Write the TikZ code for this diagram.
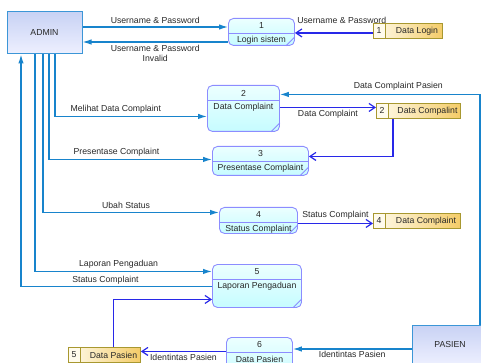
\documentclass[tikz,border=0pt]{standalone}
\usepackage{fontspec}
\setmainfont{Liberation Sans}
\usetikzlibrary{arrows.meta}

\definecolor{flowblue}{RGB}{24,132,204}
\definecolor{storeflowblue}{RGB}{40,40,232}
\definecolor{procline}{RGB}{140,140,255}
\definecolor{proctop}{RGB}{236,255,255}
\definecolor{procbottom}{RGB}{198,252,255}
\definecolor{entline}{RGB}{60,150,215}
\definecolor{enttop}{RGB}{200,210,244}
\definecolor{entbottom}{RGB}{238,240,255}
\definecolor{storeline}{RGB}{168,152,48}
\definecolor{storeleft}{RGB}{255,251,236}
\definecolor{storeright}{RGB}{244,204,104}
\definecolor{labelgray}{RGB}{40,40,40}

\newcommand{\dfdfont}{\fontsize{8.7}{10}\selectfont}

\tikzset{
  entitybox/.style={draw=entline, line width=1pt, top color=enttop, bottom color=entbottom,
    font=\dfdfont, text=labelgray},
  procbox/.style={draw=procline, line width=0.9pt, rounded corners=5pt,
    top color=proctop, bottom color=procbottom, inner sep=0pt},
  procedge/.style={draw=procline, line width=0.9pt},
  storebox/.style={draw=storeline, line width=0.9pt, left color=storeleft, right color=storeright,
    minimum height=15pt, inner sep=0pt},
  storeedge/.style={draw=storeline, line width=0.9pt, fill=storeleft},
  intext/.style={font=\dfdfont, text=labelgray, inner sep=0pt},
  flowlabel/.style={font=\dfdfont, text=labelgray, inner sep=1pt, align=center},
  flow/.style={draw=flowblue, line width=1.2pt, -{Latex[length=9pt,width=5.5pt]}},
  storeflow/.style={draw=storeflowblue, line width=1.2pt, -{Straight Barb[length=6pt,width=8pt]}},
}

% process: name, x, y (top left), width, height, number, text
\newcommand{\dfdproc}[7]{%
  \node[procbox, minimum width=#4pt, minimum height=#5pt, anchor=north west] (#1) at (#2,#3) {};
  \draw[procedge] ([yshift=-15.5pt]#1.north west) -- ([yshift=-15.5pt]#1.north east);
  \draw[procedge] ([xshift=-9pt]#1.south east) -- ([yshift=9pt]#1.south east);
  \node[intext] (#1num) at ([yshift=-8pt]#1.north) {#6};
  \node[intext] (#1txt) at ([yshift=-22pt]#1.north) {#7};
}

% data store: name, x, y (top left), width, number, text
\newcommand{\dfdstore}[6]{%
  \node[storebox, minimum width=#4pt, anchor=north west] (#1) at (#2,#3) {};
  \draw[storeedge] (#1.north west) rectangle ([xshift=12pt]#1.south west);
  \node[intext] (#1num) at ([xshift=6pt]#1.west) {#5};
  \node[intext] (#1txt) at ([xshift=9pt]#1.center) {#6};
}

\begin{document}
\begin{tikzpicture}[x=1pt, y=-1pt]
\useasboundingbox (0,0) rectangle (481,363);

% entities
\node[entitybox, minimum width=75pt, minimum height=42pt] (admin) at (44.5,33) {ADMIN};
\node[entitybox, minimum width=76pt, minimum height=40pt] (pasien) at (450,345) {PASIEN};

% processes
\dfdproc{p1}{228}{18}{66}{27}{1}{Login sistem}
\dfdproc{p2}{207}{85}{72}{46}{2}{Data Complaint}
\dfdproc{p3}{212}{146}{96}{29}{3}{Presentase Complaint}
\dfdproc{p4}{219}{207}{78}{26}{4}{Status Complaint}
\dfdproc{p5}{212}{264}{89}{43}{5}{Laporan Pengaduan}
\dfdproc{p6}{226}{337}{66}{42}{6}{Data Pasien}

% data stores
\dfdstore{dlogin}{373}{23}{69}{1}{Data Login}
\dfdstore{dcomp}{376}{103}{84}{2}{Data Compalint}
\dfdstore{dstatus}{373}{213}{87}{4}{Data Complaint}
\dfdstore{dpasien}{68}{347}{72}{5}{Data Pasien}

% login
\draw[flow] ([yshift=6pt]admin.east) -- ([yshift=6pt]admin.east -| p1.west)
  node[flowlabel, above=2pt, midway] {Username \& Password};
\draw[flow] ([yshift=-9pt]admin.east -| p1.west) -- ([yshift=-9pt]admin.east)
  node[flowlabel, below=2pt, midway] {Username \& Password\\Invalid};
\draw[storeflow] ([yshift=-2pt]dlogin.west) -- ([yshift=-2pt]dlogin.west -| p1.east)
  node[flowlabel, above=8pt, pos=0.4] {Username \& Password};

% complaint
\draw[flow] ([xshift=10.5pt]admin.south) |- ([yshift=-8pt]p2.west)
  node[flowlabel, above=2pt, pos=0.7] {Melihat Data Complaint};
\draw[flow] ([xshift=30pt]pasien.north) |- ([yshift=14pt]p2.east)
  node[flowlabel, above=3pt, pos=0.704] {Data Complaint Pasien};
\draw[storeflow] ([yshift=1pt]p2.east) -- ([yshift=1pt]p2.east -| dcomp.west)
  node[flowlabel, below=1pt, midway] {Data Complaint};
\draw[storeflow] ([xshift=17pt]dcomp.south west) |- ([yshift=4.5pt]p3.east);
\draw[flow] ([xshift=4.5pt]admin.south) |- ([yshift=1.5pt]p3.west)
  node[flowlabel, above=2pt, pos=0.707] {Presentase Complaint};

% status
\draw[flow] ([xshift=-1.5pt]admin.south) |- ([yshift=8pt]p4.west)
  node[flowlabel, above=2pt, pos=0.736] {Ubah Status};
\draw[storeflow] ([yshift=-3pt]p4.east) -- ([yshift=-3pt]p4.east -| dstatus.west)
  node[flowlabel, above=3pt, midway] {Status Complaint};

% laporan
\draw[flow] ([xshift=-9.5pt]admin.south) |- ([yshift=14.5pt]p5.west)
  node[flowlabel, above=2pt, pos=0.736] {Laporan Pengaduan};
\draw[flow] ([yshift=-0.5pt]p5.west) -| ([xshift=-23.5pt]admin.south)
  node[flowlabel, above=1pt, pos=0.279] {Status Complaint};
\draw[storeflow] ([xshift=9pt]dpasien.north) |- ([yshift=-13.5pt]p5.west);

% pasien
\draw[flow] ([yshift=-4pt]pasien.west) -- ([yshift=-4pt]pasien.west -| p6.east)
  node[flowlabel, below=1pt, midway] {Identintas Pasien};
\draw[storeflow] ([yshift=7pt]p6.west) -- ([yshift=7pt]p6.west -| dpasien.east)
  node[flowlabel, below=1pt, midway] {Identintas Pasien};
\end{tikzpicture}
\end{document}
